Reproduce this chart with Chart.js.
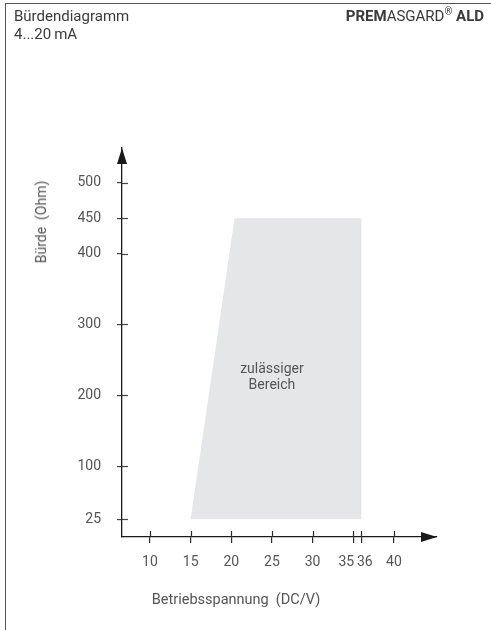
<!DOCTYPE html>
<html>
<head>
<meta charset="utf-8">
<script src="https://cdn.jsdelivr.net/npm/chart.js@4"></script>
<style>
  html, body { margin:0; padding:0; background:#fff; }
  body { width:491px; height:630px; position:relative; overflow:hidden; font-family: Roboto, "Noto Sans", sans-serif; color:#3a3a3a; }
  #frame { position:absolute; left:5px; top:3px; width:490px; height:630px; border-top:1.5px solid #555; border-left:1.5px solid #555; }
  #wrap { position:absolute; left:0; top:0; width:491px; height:630px; }
  .t { position:absolute; font-size:15px; line-height:18px; white-space:nowrap; }
  #h1 { left:14px; top:7px; }
  #h2 { left:14px; top:25px; }
  #brand { right:7px; top:7px; }
  #ytitle { left:41px; top:222px; transform: translate(-50%,-50%) rotate(-90deg); color:#555; font-size:14px; }
  #xtitle { left:236px; top:600px; transform: translate(-50%,-50%); color:#555; font-size:14.5px; }
  #area { position:absolute; text-align:center; font-size:14px; line-height:16px; color:#555; transform: translate(-50%,-50%); }
</style>
</head>
<body>
<div id="frame"></div>
<div id="wrap"><canvas id="c" width="491" height="630"></canvas></div>
<div class="t" id="h1">Bürdendiagramm</div>
<div class="t" id="h2">4...20&#8201;mA</div>
<div class="t" id="brand"><b>PREM</b>ASGARD<sup style="font-size:10px;line-height:0">®</sup> <b>ALD</b></div>
<div class="t" id="ytitle">Bürde&nbsp; (Ohm)</div>
<div class="t" id="xtitle">Betriebsspannung&nbsp; (DC/V)</div>
<div id="area">zulässiger<br>Bereich</div>
<script>
// ---- data ----
const xTickValues = [10, 15, 20, 25, 30, 35, 36, 40];
const xTickLabels = ['10', '15', '20', '25', '30', '35    ', '  36', '40'];
const yTickValues = [25, 100, 200, 300, 400, 450, 500];
const areaVoltage = [15, 20.4, 36, 36, 15];
const areaLoad = [25, 450, 450, 25, 25];
const areaLabelPos = { x: 25, y: 227 };

const xMin = 6.56, xMax = 45.3, yMin = 0, yMax = 549;

const axisPlugin = {
  id: 'axisDeco',
  afterDraw(chart) {
    const ctx = chart.ctx;
    const xs = chart.scales.x, ys = chart.scales.y;
    const ca = chart.chartArea;
    ctx.save();
    ctx.lineWidth = 1.2;
    ctx.strokeStyle = '#444';
    yTickValues.forEach(v => {
      const p = Math.round(ys.getPixelForValue(v)) + 0.5;
      ctx.beginPath(); ctx.moveTo(ca.left, p); ctx.lineTo(ca.left + 6, p); ctx.stroke();
    });
    ctx.strokeStyle = '#2a2a2a';
    xTickValues.forEach(v => {
      const p = Math.round(xs.getPixelForValue(v)) + 0.5;
      ctx.beginPath(); ctx.moveTo(p, ca.bottom); ctx.lineTo(p, ca.bottom - 6); ctx.stroke();
    });
    ctx.fillStyle = '#1a1a1a';
    const ax = ca.left;
    ctx.beginPath();
    ctx.moveTo(ax, ca.top); ctx.lineTo(ax - 5, ca.top + 16); ctx.lineTo(ax + 5, ca.top + 16); ctx.closePath(); ctx.fill();
    const ay = ca.bottom;
    ctx.beginPath();
    ctx.moveTo(ca.right, ay); ctx.lineTo(ca.right - 16, ay - 5); ctx.lineTo(ca.right - 16, ay + 5); ctx.closePath(); ctx.fill();
    ctx.restore();
    const lab = document.getElementById('area');
    lab.style.left = xs.getPixelForValue(areaLabelPos.x) + 'px';
    lab.style.top = ys.getPixelForValue(areaLabelPos.y) + 'px';
  }
};

new Chart(document.getElementById('c'), {
  type: 'scatter',
  data: {
    datasets: [{
      data: areaVoltage.map((u, i) => ({ x: u, y: areaLoad[i] })),
      showLine: true,
      fill: 'shape',
      backgroundColor: '#e5e6e8',
      borderWidth: 0,
      borderColor: 'rgba(0,0,0,0)',
      pointRadius: 0,
      tension: 0
    }]
  },
  options: {
    responsive: false,
    animation: false,
    events: [],
    layout: { padding: { left: 0, right: 54, top: 148, bottom: 0 } },
    plugins: { legend: { display: false }, tooltip: { enabled: false } },
    scales: {
      x: {
        type: 'linear', min: xMin, max: xMax,
        afterBuildTicks: s => { s.ticks = xTickValues.map(v => ({ value: v })); },
        afterFit: s => { s.height = 93; },
        border: { display: true, color: '#1a1a1a', width: 1.3 },
        grid: { display: true, drawOnChartArea: false, drawTicks: true, tickLength: 6, color: '#2a2a2a', lineWidth: 1.2 },
        ticks: {
          color: '#555', font: { family: 'Roboto', size: 14 }, padding: 11, maxRotation: 0, autoSkip: false,
          callback: (v) => { const i = xTickValues.indexOf(v); return i >= 0 ? xTickLabels[i] : ''; }
        }
      },
      y: {
        type: 'linear', min: yMin, max: yMax,
        afterBuildTicks: s => { s.ticks = yTickValues.map(v => ({ value: v })); },
        afterFit: s => { s.width = 122; },
        border: { display: true, color: '#1a1a1a', width: 1.3 },
        grid: { display: true, drawOnChartArea: false, drawTicks: true, tickLength: 5, color: '#444', lineWidth: 1.2 },
        ticks: { color: '#555', font: { family: 'Roboto', size: 14 }, padding: 16, autoSkip: false }
      }
    }
  },
  plugins: [axisPlugin]
});
</script>
</body>
</html>
